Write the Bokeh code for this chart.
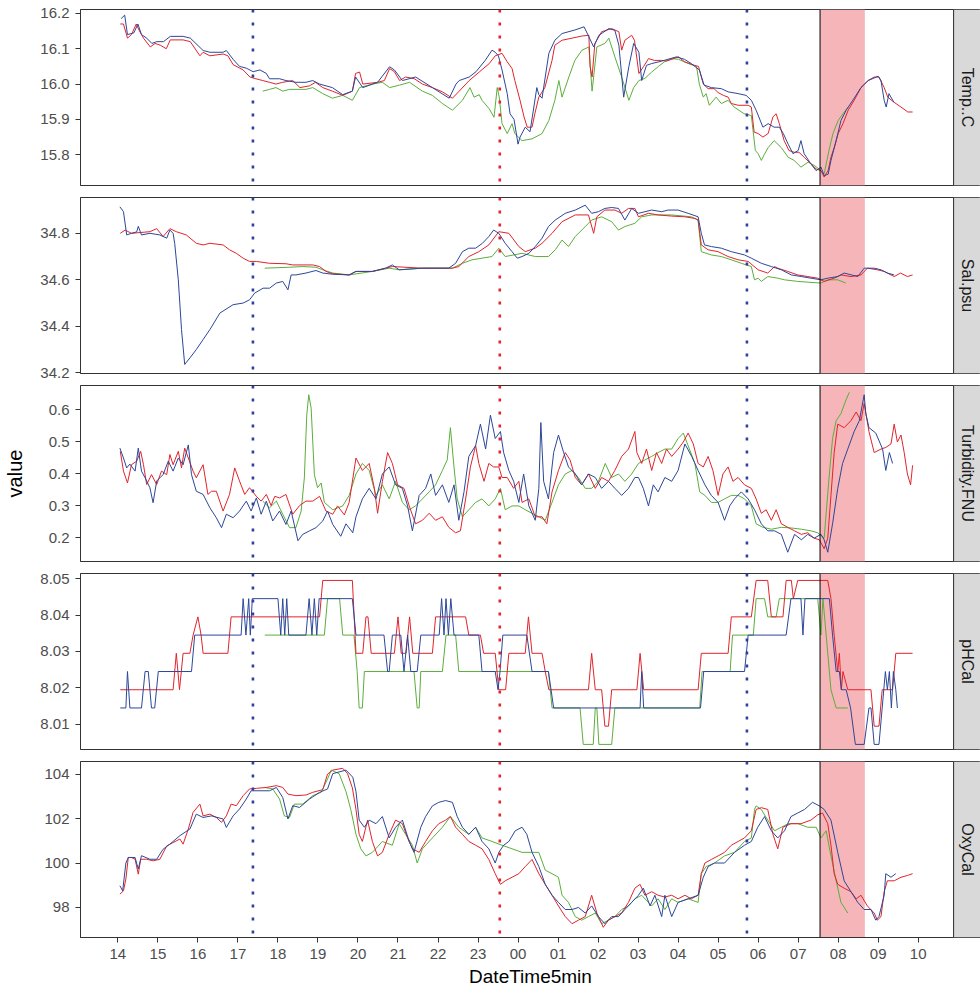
import math
from bokeh.plotting import figure
from bokeh.layouts import column
from bokeh.models import Span, BoxAnnotation, Label, FixedTicker, NumeralTickFormatter, Range1d
from bokeh.embed import file_html
from bokeh.resources import INLINE

# ---------------- data (time = hours after 14:00) ----------------
HOUR_TICKS = list(range(21))
HOUR_LABELS = ["14", "15", "16", "17", "18", "19", "20", "21", "22", "23", "00",
               "01", "02", "03", "04", "05", "06", "07", "08", "09", "10"]

EVENT_BLUE_T = [3.375, 15.72]
EVENT_RED_T = [9.544]
SAMPLE_START_T = 17.547
SAMPLE_END_T = 18.667

TEMP_RED = [(0.06,16.17),(0.14,16.17),(0.24,16.13),(0.34,16.14),(0.46,16.17),(0.54,16.15),(0.64,16.13),(0.81,16.105),(0.93,16.115),(1.06,16.11),(1.21,16.10),(1.31,16.125),(1.63,16.125),(1.81,16.12),(2.05,16.08),(2.13,16.09),(2.30,16.08),(2.63,16.085),(2.75,16.08),(2.88,16.055),(3.13,16.04),(3.30,16.02),(3.45,16.015),(3.62,16.01),(3.79,16.005),(3.95,16.0),(4.12,16.005),(4.37,16.01),(4.55,15.99),(4.79,15.995),(4.94,16.005),(5.12,15.99),(5.36,15.98),(5.62,15.968),(5.86,15.98),(5.94,16.03),(6.04,16.034),(6.12,16.0),(6.49,16.005),(6.66,16.01),(6.79,16.044),(6.91,16.035),(7.04,16.01),(7.19,16.02),(7.41,16.015),(7.61,16.0),(7.86,15.99),(8.11,15.978),(8.36,15.96),(8.53,15.98),(8.78,16.01),(9.03,16.034),(9.28,16.058),(9.43,16.08),(9.60,16.087),(9.73,16.063),(9.85,16.044),(9.92,16.01),(10.05,15.954),(10.15,15.907),(10.23,15.878),(10.35,15.878),(10.42,15.916),(10.52,15.963),(10.67,15.99),(10.85,16.067),(10.92,16.11),(11.10,16.124),(11.35,16.13),(11.60,16.136),(11.77,16.138),(11.80,16.05),(11.85,16.02),(11.92,16.115),(12.09,16.148),(12.34,16.157),(12.52,16.148),(12.59,16.096),(12.67,16.124),(12.84,16.138),(12.91,16.124),(13.02,16.03),(13.14,16.05),(13.26,16.072),(13.41,16.067),(13.59,16.067),(13.71,16.065),(14.01,16.077),(14.16,16.063),(14.41,16.053),(14.51,16.05),(14.63,16.0),(14.75,15.987),(14.90,15.987),(15.00,15.976),(15.13,15.968),(15.25,15.963),(15.33,15.945),(15.50,15.94),(15.75,15.94),(15.83,15.935),(15.90,15.864),(16.00,15.86),(16.12,15.85),(16.25,15.86),(16.37,15.907),(16.45,15.916),(16.53,15.888),(16.65,15.84),(16.77,15.812),(16.90,15.807),(17.02,15.807),(17.15,15.793),(17.32,15.774),(17.45,15.76),(17.57,15.755),(17.65,15.737),(17.75,15.756),(17.82,15.793),(17.90,15.82),(18.00,15.86),(18.12,15.888),(18.25,15.926),(18.40,15.954),(18.57,15.99),(18.75,16.01),(18.90,16.02),(19.02,16.02),(19.15,15.99),(19.24,15.963),(19.39,15.949),(19.57,15.935),(19.74,15.921),(19.86,15.921)]
TEMP_BLUE = [(0.08,16.185),(0.17,16.195),(0.24,16.14),(0.40,16.145),(0.50,16.17),(0.59,16.14),(0.72,16.13),(0.85,16.115),(0.97,16.12),(1.14,16.12),(1.31,16.135),(1.63,16.135),(1.81,16.13),(2.13,16.095),(2.30,16.09),(2.63,16.09),(2.71,16.095),(2.88,16.07),(3.04,16.05),(3.21,16.045),(3.38,16.035),(3.55,16.04),(3.71,16.03),(3.79,16.015),(4.04,16.015),(4.20,16.01),(4.45,16.005),(4.70,16.005),(4.87,16.01),(5.04,16.0),(5.36,15.99),(5.62,15.97),(5.86,15.98),(5.94,16.02),(6.12,15.99),(6.49,16.005),(6.79,16.049),(6.91,16.04),(7.11,16.01),(7.44,16.02),(7.86,15.99),(8.28,15.96),(8.45,16.0),(8.53,16.01),(8.78,16.02),(8.95,16.035),(9.18,16.067),(9.35,16.096),(9.43,16.09),(9.51,16.08),(9.60,16.04),(9.73,15.973),(9.80,15.916),(9.90,15.90),(10.00,15.83),(10.05,15.85),(10.18,15.878),(10.30,15.865),(10.47,15.99),(10.52,15.97),(10.60,15.96),(10.77,16.087),(10.92,16.124),(11.10,16.143),(11.42,16.153),(11.65,16.162),(11.77,16.134),(11.89,16.105),(12.02,16.138),(12.27,16.157),(12.42,16.152),(12.52,16.11),(12.64,15.963),(12.77,16.05),(12.89,16.115),(13.02,16.09),(13.09,16.01),(13.21,16.053),(13.34,16.058),(13.59,16.065),(13.96,16.077),(14.16,16.07),(14.33,16.058),(14.53,16.04),(14.65,15.997),(14.83,15.99),(15.08,15.987),(15.25,15.978),(15.50,15.973),(15.70,15.968),(15.83,15.954),(15.95,15.926),(16.12,15.878),(16.25,15.888),(16.40,15.878),(16.53,15.878),(16.63,15.86),(16.75,15.83),(16.87,15.803),(17.00,15.812),(17.07,15.84),(17.15,15.803),(17.32,15.774),(17.45,15.755),(17.57,15.765),(17.65,15.741),(17.75,15.745),(17.82,15.784),(17.95,15.84),(18.07,15.897),(18.20,15.926),(18.40,15.96),(18.57,15.99),(18.75,16.01),(19.00,16.022),(19.07,16.01),(19.15,15.954),(19.20,15.935),(19.27,15.973),(19.39,15.949)]
TEMP_GREEN = [(3.62,15.98),(3.79,15.985),(3.95,15.99),(4.12,15.98),(4.29,15.985),(4.70,15.985),(4.87,15.99),(5.12,15.973),(5.36,15.96),(5.62,15.968),(5.86,15.954),(6.04,15.99),(6.36,16.0),(6.61,16.005),(6.79,15.99),(7.04,15.997),(7.29,16.005),(7.61,15.98),(7.86,15.968),(8.11,15.945),(8.36,15.926),(8.61,15.954),(8.80,15.99),(8.90,15.963),(9.03,15.97),(9.10,15.954),(9.28,15.93),(9.40,15.906),(9.48,15.99),(9.53,15.963),(9.60,15.888),(9.73,15.86),(9.85,15.888),(9.92,15.86),(10.10,15.84),(10.35,15.845),(10.60,15.86),(10.77,15.897),(10.92,15.954),(11.02,16.01),(11.10,15.963),(11.27,16.02),(11.42,16.067),(11.60,16.096),(11.77,16.105),(11.85,15.98),(11.97,16.105),(12.17,16.115),(12.27,16.13),(12.42,16.077),(12.59,16.02),(12.77,15.954),(12.89,15.99),(13.02,16.01),(13.17,16.016),(13.34,16.034),(13.51,16.05),(13.66,16.063),(13.84,16.072),(14.01,16.07),(14.26,16.058),(14.46,16.05),(14.53,16.0),(14.63,15.963),(14.70,15.973),(14.78,15.94),(14.95,15.963),(15.08,15.945),(15.25,15.954),(15.40,15.935),(15.65,15.916),(15.83,15.911),(15.93,15.812),(16.00,15.803),(16.08,15.784),(16.15,15.80),(16.25,15.82),(16.40,15.84),(16.58,15.82),(16.75,15.793),(16.90,15.784),(17.07,15.765),(17.25,15.779),(17.40,15.77),(17.52,15.76),(17.65,15.746),(17.77,15.812),(17.87,15.86),(18.00,15.897),(18.12,15.916),(18.25,15.935)]

SAL_RED = [(0.06,34.80),(0.18,34.814),(0.34,34.80),(0.80,34.807),(0.97,34.82),(1.13,34.786),(1.30,34.82),(1.46,34.807),(1.71,34.793),(1.96,34.757),(2.13,34.75),(2.30,34.757),(2.63,34.75),(2.79,34.729),(2.96,34.714),(3.13,34.693),(3.29,34.679),(3.46,34.679),(3.79,34.671),(4.20,34.669),(4.37,34.664),(4.87,34.664),(5.04,34.657),(5.20,34.636),(5.37,34.626),(5.78,34.621),(5.95,34.636),(6.36,34.636),(6.69,34.65),(6.86,34.657),(7.61,34.65),(8.36,34.65),(8.52,34.657),(8.77,34.70),(9.02,34.721),(9.27,34.75),(9.52,34.807),(9.77,34.80),(10.02,34.743),(10.18,34.721),(10.43,34.736),(10.60,34.757),(10.85,34.80),(11.10,34.85),(11.43,34.879),(11.76,34.879),(11.89,34.80),(11.97,34.871),(12.17,34.90),(12.42,34.90),(12.59,34.886),(12.76,34.907),(12.92,34.907),(13.01,34.871),(13.26,34.886),(13.50,34.879),(13.84,34.874),(14.17,34.871),(14.42,34.864),(14.50,34.857),(14.58,34.75),(14.75,34.729),(15.00,34.721),(15.25,34.70),(15.50,34.686),(15.75,34.679),(16.00,34.643),(16.24,34.629),(16.41,34.657),(16.49,34.65),(16.74,34.636),(16.99,34.621),(17.24,34.614),(17.49,34.607),(17.65,34.593),(17.90,34.607),(18.07,34.621),(18.32,34.614),(18.57,34.621),(18.73,34.65),(18.98,34.643),(19.15,34.636),(19.40,34.614),(19.56,34.629),(19.73,34.614),(19.86,34.621)]
SAL_BLUE = [(0.05,34.914),(0.14,34.893),(0.22,34.793),(0.34,34.80),(0.47,34.806),(0.51,34.83),(0.59,34.793),(0.80,34.80),(1.05,34.793),(1.22,34.779),(1.30,34.814),(1.38,34.80),(1.42,34.757),(1.51,34.60),(1.59,34.386),(1.67,34.236),(1.80,34.264),(1.96,34.30),(2.13,34.343),(2.30,34.386),(2.55,34.457),(2.88,34.493),(3.13,34.50),(3.29,34.514),(3.42,34.543),(3.63,34.564),(3.79,34.564),(3.96,34.586),(4.12,34.593),(4.25,34.557),(4.33,34.621),(4.45,34.621),(4.70,34.629),(4.95,34.64),(5.12,34.629),(5.37,34.624),(5.78,34.621),(5.95,34.636),(6.36,34.636),(6.69,34.65),(6.86,34.664),(7.03,34.643),(7.61,34.65),(8.27,34.65),(8.44,34.671),(8.61,34.721),(8.77,34.736),(8.94,34.736),(9.11,34.757),(9.27,34.786),(9.39,34.814),(9.52,34.80),(9.68,34.757),(9.85,34.721),(9.98,34.693),(10.10,34.70),(10.27,34.714),(10.43,34.743),(10.60,34.779),(10.76,34.829),(10.93,34.857),(11.18,34.886),(11.43,34.90),(11.68,34.921),(11.84,34.886),(12.01,34.893),(12.17,34.907),(12.34,34.911),(12.51,34.907),(12.67,34.857),(12.84,34.907),(13.01,34.886),(13.34,34.90),(13.59,34.893),(13.75,34.90),(14.00,34.90),(14.25,34.886),(14.50,34.871),(14.58,34.80),(14.66,34.75),(14.83,34.743),(15.08,34.736),(15.33,34.721),(15.66,34.707),(15.83,34.693),(16.08,34.671),(16.33,34.657),(16.58,34.643),(16.83,34.621),(17.08,34.614),(17.32,34.607),(17.57,34.60),(17.74,34.607),(17.99,34.614),(18.15,34.629),(18.49,34.614),(18.65,34.65),(18.90,34.65),(19.07,34.643),(19.23,34.629),(19.40,34.621)]
SAL_GREEN = [(3.67,34.65),(4.29,34.654),(4.62,34.657),(4.95,34.654),(5.12,34.643),(5.37,34.629),(5.78,34.621),(6.36,34.636),(6.78,34.65),(7.03,34.643),(7.61,34.65),(8.36,34.65),(8.61,34.671),(8.85,34.686),(9.10,34.693),(9.35,34.70),(9.52,34.736),(9.68,34.70),(10.10,34.714),(10.43,34.70),(10.76,34.70),(10.93,34.729),(11.10,34.771),(11.26,34.743),(11.43,34.786),(11.68,34.829),(11.84,34.857),(12.09,34.871),(12.34,34.85),(12.51,34.814),(12.67,34.829),(12.92,34.843),(13.09,34.871),(13.34,34.879),(13.84,34.879),(14.33,34.871),(14.50,34.857),(14.58,34.721),(14.83,34.707),(15.08,34.70),(15.33,34.686),(15.58,34.671),(15.83,34.657),(15.91,34.60),(16.00,34.607),(16.08,34.593),(16.24,34.614),(16.49,34.607),(16.66,34.60),(16.99,34.593),(17.32,34.589),(17.57,34.586),(17.74,34.60),(17.99,34.60),(18.19,34.586)]

TURB_RED = [(0.06,0.47),(0.14,0.408),(0.24,0.371),(0.34,0.428),(0.47,0.439),(0.57,0.47),(0.64,0.428),(0.72,0.366),(0.84,0.397),(0.97,0.366),(1.09,0.408),(1.22,0.397),(1.30,0.46),(1.38,0.428),(1.51,0.47),(1.59,0.418),(1.67,0.48),(1.76,0.449),(1.88,0.408),(1.96,0.387),(2.13,0.428),(2.25,0.335),(2.34,0.345),(2.46,0.345),(2.63,0.283),(2.79,0.335),(2.92,0.418),(3.04,0.377),(3.17,0.335),(3.29,0.356),(3.46,0.329),(3.58,0.314),(3.71,0.335),(3.83,0.30),(3.92,0.329),(4.04,0.324),(4.20,0.335),(4.37,0.273),(4.54,0.30),(4.70,0.314),(4.87,0.314),(5.04,0.329),(5.20,0.283),(5.37,0.273),(5.49,0.299),(5.66,0.271),(5.78,0.31),(5.95,0.449),(6.11,0.41),(6.28,0.432),(6.41,0.354),(6.49,0.276),(6.61,0.376),(6.74,0.466),(6.86,0.432),(6.99,0.365),(7.15,0.354),(7.28,0.299),(7.44,0.243),(7.61,0.254),(7.78,0.276),(7.94,0.254),(8.11,0.265),(8.27,0.232),(8.44,0.215),(8.56,0.221),(8.69,0.321),(8.81,0.421),(8.94,0.488),(9.02,0.432),(9.15,0.376),(9.27,0.432),(9.39,0.421),(9.52,0.421),(9.60,0.388),(9.73,0.388),(9.89,0.354),(10.02,0.376),(10.10,0.31),(10.27,0.321),(10.43,0.265),(10.60,0.265),(10.72,0.243),(10.85,0.343),(11.01,0.41),(11.18,0.466),(11.30,0.443),(11.43,0.388),(11.59,0.365),(11.76,0.399),(11.93,0.354),(12.09,0.388),(12.26,0.376),(12.42,0.41),(12.59,0.454),(12.76,0.477),(12.92,0.532),(12.97,0.466),(13.09,0.432),(13.21,0.477),(13.34,0.41),(13.46,0.466),(13.59,0.432),(13.71,0.477),(13.84,0.454),(14.00,0.477),(14.13,0.499),(14.25,0.527),(14.38,0.493),(14.50,0.432),(14.63,0.421),(14.75,0.454),(14.87,0.41),(15.00,0.332),(15.12,0.399),(15.25,0.421),(15.37,0.376),(15.50,0.388),(15.66,0.365),(15.83,0.354),(15.95,0.321),(16.08,0.276),(16.20,0.287),(16.33,0.254),(16.45,0.287),(16.58,0.243),(16.74,0.232),(16.91,0.221),(17.08,0.21),(17.24,0.215),(17.40,0.198),(17.53,0.193),(17.65,0.165),(17.74,0.198),(17.82,0.332),(17.90,0.466),(17.99,0.555),(18.15,0.544),(18.32,0.566),(18.45,0.593),(18.57,0.566),(18.65,0.62),(18.77,0.532),(18.90,0.466),(19.07,0.477),(19.19,0.482),(19.32,0.493),(19.40,0.555),(19.48,0.499),(19.57,0.521),(19.65,0.466),(19.73,0.399),(19.81,0.365),(19.86,0.426)]
TURB_BLUE = [(0.05,0.48),(0.14,0.449),(0.22,0.418),(0.30,0.43),(0.43,0.408),(0.51,0.48),(0.59,0.408),(0.68,0.387),(0.80,0.356),(0.88,0.309),(0.97,0.377),(1.05,0.387),(1.13,0.397),(1.26,0.439),(1.38,0.408),(1.51,0.449),(1.63,0.428),(1.76,0.49),(1.84,0.397),(1.96,0.345),(2.13,0.335),(2.30,0.293),(2.46,0.262),(2.59,0.231),(2.71,0.273),(2.88,0.262),(3.04,0.283),(3.21,0.314),(3.33,0.283),(3.46,0.324),(3.58,0.273),(3.71,0.314),(3.87,0.252),(4.04,0.283),(4.20,0.241),(4.33,0.283),(4.50,0.19),(4.62,0.21),(4.79,0.221),(4.95,0.231),(5.12,0.252),(5.24,0.283),(5.37,0.241),(5.57,0.204),(5.70,0.243),(5.87,0.215),(5.95,0.265),(6.11,0.321),(6.28,0.354),(6.45,0.321),(6.61,0.399),(6.78,0.421),(6.94,0.365),(7.11,0.354),(7.24,0.299),(7.36,0.221),(7.53,0.332),(7.69,0.354),(7.82,0.399),(7.94,0.332),(8.11,0.365),(8.27,0.31),(8.40,0.365),(8.52,0.254),(8.65,0.343),(8.77,0.454),(8.94,0.488),(9.06,0.555),(9.19,0.477),(9.31,0.583),(9.43,0.51),(9.56,0.532),(9.64,0.466),(9.77,0.41),(9.89,0.376),(10.02,0.31),(10.14,0.399),(10.27,0.299),(10.43,0.254),(10.52,0.354),(10.57,0.56),(10.64,0.376),(10.76,0.321),(10.89,0.466),(11.01,0.521),(11.14,0.466),(11.26,0.421),(11.43,0.399),(11.59,0.365),(11.76,0.399),(11.93,0.388),(12.09,0.354),(12.26,0.376),(12.42,0.354),(12.59,0.332),(12.76,0.354),(12.92,0.388),(13.01,0.388),(13.13,0.354),(13.26,0.299),(13.38,0.365),(13.50,0.343),(13.67,0.388),(13.84,0.376),(14.00,0.41),(14.17,0.493),(14.34,0.454),(14.50,0.41),(14.67,0.365),(14.83,0.332),(15.00,0.31),(15.16,0.254),(15.29,0.299),(15.41,0.321),(15.58,0.343),(15.75,0.321),(15.91,0.287),(16.08,0.243),(16.24,0.221),(16.41,0.221),(16.58,0.21),(16.74,0.154),(16.91,0.21),(17.08,0.193),(17.24,0.21),(17.40,0.198),(17.57,0.21),(17.65,0.193),(17.74,0.154),(17.86,0.243),(17.99,0.354),(18.11,0.432),(18.24,0.477),(18.40,0.532),(18.53,0.566),(18.65,0.647),(18.69,0.588),(18.77,0.544),(18.94,0.527),(19.11,0.477),(19.19,0.41),(19.28,0.466),(19.36,0.432)]
TURB_GREEN = [(3.62,0.314),(3.79,0.293),(3.96,0.314),(4.12,0.273),(4.29,0.231),(4.45,0.231),(4.58,0.283),(4.66,0.387),(4.72,0.584),(4.77,0.647),(4.83,0.605),(4.91,0.397),(4.99,0.356),(5.08,0.371),(5.16,0.31),(5.37,0.287),(5.62,0.299),(5.78,0.332),(5.95,0.399),(6.11,0.432),(6.28,0.41),(6.45,0.332),(6.61,0.365),(6.78,0.321),(6.94,0.376),(7.11,0.31),(7.28,0.287),(7.44,0.299),(7.61,0.321),(7.78,0.343),(7.94,0.365),(8.11,0.41),(8.23,0.443),(8.31,0.544),(8.40,0.421),(8.48,0.321),(8.61,0.265),(8.77,0.287),(8.94,0.31),(9.10,0.321),(9.27,0.299),(9.43,0.321),(9.56,0.354),(9.68,0.287),(9.85,0.299),(10.02,0.299),(10.18,0.287),(10.35,0.276),(10.52,0.265),(10.68,0.254),(10.85,0.31),(11.01,0.365),(11.18,0.399),(11.35,0.41),(11.51,0.388),(11.68,0.354),(11.84,0.354),(12.01,0.376),(12.18,0.432),(12.34,0.388),(12.51,0.399),(12.67,0.376),(12.84,0.399),(13.01,0.432),(13.17,0.443),(13.34,0.454),(13.50,0.466),(13.67,0.477),(13.84,0.477),(14.00,0.51),(14.13,0.527),(14.25,0.488),(14.42,0.432),(14.54,0.343),(14.67,0.332),(14.83,0.31),(15.00,0.31),(15.16,0.321),(15.33,0.332),(15.50,0.332),(15.66,0.321),(15.83,0.299),(15.95,0.243),(16.12,0.232),(16.33,0.226),(16.58,0.232),(16.83,0.23),(17.08,0.226),(17.32,0.221),(17.49,0.215),(17.65,0.198),(17.78,0.399),(17.86,0.51),(17.95,0.566),(18.07,0.588),(18.20,0.632),(18.28,0.655)]

PH_RED = [(0.06,8.0195),(1.38,8.0195),(1.46,8.0295),(1.54,8.0195),(1.63,8.0295),(1.80,8.0295),(1.88,8.0345),(2.00,8.0395),(2.08,8.0345),(2.13,8.0295),(2.75,8.0295),(2.83,8.0395),(5.04,8.0395),(5.12,8.0495),(5.86,8.0495),(5.95,8.0295),(6.12,8.0295),(6.20,8.0395),(6.25,8.0395),(6.33,8.0295),(6.91,8.0295),(7.00,8.0395),(7.08,8.0295),(7.20,8.0295),(7.29,8.0395),(7.37,8.0295),(7.86,8.0295),(7.94,8.0395),(8.69,8.0395),(8.77,8.0345),(9.06,8.0345),(9.14,8.0295),(9.43,8.0295),(9.52,8.0195),(9.69,8.0195),(9.77,8.0295),(10.18,8.0295),(10.26,8.0395),(10.35,8.0295),(10.60,8.0295),(10.68,8.0245),(10.77,8.0195),(11.76,8.0195),(11.84,8.0295),(11.93,8.0195),(12.09,8.0195),(12.17,8.0095),(12.26,8.0095),(12.34,8.0195),(12.97,8.0195),(13.05,8.0295),(13.14,8.0195),(14.50,8.0195),(14.58,8.0295),(15.25,8.0295),(15.33,8.0395),(15.83,8.0395),(15.95,8.0495),(16.24,8.0495),(16.33,8.0395),(16.62,8.0395),(16.70,8.0495),(16.83,8.0495),(16.88,8.0445),(16.99,8.0495),(17.74,8.0495),(17.82,8.0445),(17.90,8.0345),(17.99,8.0245),(18.03,8.0295),(18.08,8.0195),(18.12,8.0245),(18.24,8.0195),(18.82,8.0195),(18.90,8.0095),(19.02,8.0095),(19.10,8.0195),(19.36,8.0195),(19.44,8.0295),(19.86,8.0295)]
PH_BLUE = [(0.06,8.0145),(0.20,8.0145),(0.24,8.0245),(0.30,8.0145),(0.59,8.0145),(0.68,8.0245),(0.76,8.0245),(0.84,8.0145),(0.92,8.0145),(1.01,8.0245),(1.84,8.0245),(1.92,8.0345),(3.08,8.0345),(3.13,8.0445),(3.20,8.0345),(3.27,8.0445),(3.31,8.0345),(3.36,8.0445),(4.00,8.0445),(4.07,8.0345),(4.12,8.0445),(4.17,8.0345),(4.22,8.0445),(4.27,8.0345),(4.70,8.0345),(4.78,8.0445),(4.85,8.0345),(4.91,8.0445),(4.97,8.0345),(5.03,8.0445),(5.86,8.0445),(5.95,8.0345),(6.65,8.0345),(6.74,8.0245),(6.78,8.0245),(6.86,8.0345),(7.07,8.0345),(7.15,8.0245),(7.24,8.0345),(7.32,8.0245),(7.48,8.0245),(7.57,8.0345),(8.03,8.0345),(8.09,8.0445),(8.15,8.0345),(8.20,8.0445),(8.26,8.0345),(8.32,8.0445),(8.40,8.0345),(9.02,8.0345),(9.10,8.0245),(9.43,8.0245),(9.50,8.0195),(9.55,8.0245),(9.62,8.0345),(10.22,8.0345),(10.35,8.0245),(10.76,8.0245),(10.89,8.0145),(13.05,8.0145),(13.09,8.0245),(13.14,8.0145),(14.56,8.0145),(14.64,8.0245),(15.66,8.0245),(15.75,8.0345),(16.70,8.0345),(16.82,8.0445),(17.07,8.0445),(17.12,8.0345),(17.17,8.0445),(17.78,8.0445),(17.86,8.0345),(17.95,8.0245),(18.03,8.0245),(18.08,8.0195),(18.20,8.0195),(18.31,8.0145),(18.43,8.0045),(18.65,8.0045),(18.77,8.0145),(18.82,8.0145),(18.90,8.0045),(19.02,8.0045),(19.10,8.0145),(19.18,8.0245),(19.23,8.0195),(19.28,8.0245),(19.33,8.0145),(19.38,8.0245),(19.44,8.0195),(19.48,8.0145)]
PH_GREEN = [(3.67,8.0345),(5.16,8.0345),(5.24,8.0445),(5.54,8.0445),(5.62,8.0345),(5.90,8.0345),(5.98,8.0245),(6.03,8.0145),(6.11,8.0145),(6.16,8.0245),(7.40,8.0245),(7.48,8.0145),(7.53,8.0145),(7.57,8.0245),(8.11,8.0245),(8.20,8.0345),(8.44,8.0345),(8.52,8.0245),(10.76,8.0245),(10.85,8.0145),(11.55,8.0145),(11.63,8.0045),(11.88,8.0045),(11.93,8.0145),(11.97,8.0145),(12.02,8.0045),(12.34,8.0045),(12.42,8.0145),(14.54,8.0145),(14.60,8.0245),(15.30,8.0245),(15.36,8.0345),(15.88,8.0345),(15.95,8.0445),(16.16,8.0445),(16.24,8.0395),(16.45,8.0395),(16.53,8.0445),(17.49,8.0445),(17.57,8.0345),(17.62,8.0445),(17.74,8.0295),(17.82,8.0195),(17.95,8.0145),(18.24,8.0145)]

OXY_RED = [(0.05,98.6),(0.14,98.75),(0.20,99.28),(0.26,100.25),(0.34,100.25),(0.43,100.17),(0.51,99.5),(0.57,100.17),(0.72,100.17),(0.88,100.1),(1.05,100.17),(1.22,100.77),(1.38,100.92),(1.55,101.08),(1.63,100.85),(1.76,101.53),(1.88,102.28),(2.05,102.65),(2.13,102.12),(2.30,102.2),(2.46,102.05),(2.59,101.83),(2.71,102.12),(2.83,102.65),(2.96,102.58),(3.13,103.03),(3.29,103.33),(3.46,103.36),(3.71,103.4),(3.96,103.48),(4.12,103.4),(4.25,103.1),(4.45,103.03),(4.70,103.06),(4.87,103.18),(5.12,103.3),(5.24,104.0),(5.37,104.18),(5.62,104.26),(5.74,104.02),(5.86,103.38),(5.95,102.41),(6.03,101.29),(6.11,100.97),(6.24,101.93),(6.36,100.97),(6.49,100.32),(6.61,100.48),(6.78,101.29),(6.94,101.93),(7.11,101.77),(7.24,101.13),(7.36,100.64),(7.53,100.48),(7.69,100.97),(7.86,101.45),(8.02,101.77),(8.19,101.93),(8.31,102.09),(8.44,101.61),(8.61,101.29),(8.77,100.97),(8.94,100.80),(9.10,100.64),(9.27,100.16),(9.43,99.52),(9.56,99.04),(9.68,99.2),(9.85,99.36),(10.02,99.52),(10.18,99.84),(10.35,100.16),(10.52,99.52),(10.68,99.04),(10.85,98.55),(11.01,98.07),(11.18,97.59),(11.35,97.27),(11.51,97.43),(11.68,97.59),(11.84,98.55),(11.97,97.75),(12.13,97.11),(12.26,97.43),(12.42,97.59),(12.59,97.75),(12.76,98.23),(12.92,98.87),(13.05,99.04),(13.17,98.55),(13.34,98.71),(13.50,98.55),(13.67,98.47),(13.84,98.55),(14.00,98.39),(14.17,98.55),(14.33,98.39),(14.50,98.55),(14.58,99.52),(14.67,100.0),(14.83,100.16),(15.00,100.32),(15.16,100.48),(15.33,100.80),(15.50,100.97),(15.66,101.13),(15.83,101.45),(15.95,102.41),(16.08,102.49),(16.24,102.41),(16.37,101.29),(16.49,100.64),(16.62,101.61),(16.82,101.77),(17.07,101.77),(17.32,101.93),(17.49,102.17),(17.61,102.25),(17.74,101.77),(17.82,100.80),(17.90,99.52),(17.99,99.04),(18.15,98.87),(18.32,98.71),(18.45,98.39),(18.57,98.55),(18.73,98.07),(18.90,97.75),(18.98,97.43),(19.07,97.59),(19.15,98.71),(19.23,99.2),(19.40,99.2),(19.57,99.36),(19.73,99.44),(19.86,99.52)]
OXY_BLUE = [(0.05,98.98),(0.12,98.75),(0.20,100.0),(0.26,100.25),(0.43,100.25),(0.51,99.73),(0.59,100.33),(0.80,100.17),(0.97,100.17),(1.13,100.62),(1.30,100.85),(1.55,101.23),(1.80,101.53),(1.96,102.2),(2.13,102.05),(2.34,102.12),(2.63,101.98),(2.71,101.6),(2.88,102.12),(3.04,102.43),(3.21,102.88),(3.33,103.25),(3.79,103.25),(3.96,103.4),(4.12,102.95),(4.25,101.98),(4.37,102.58),(4.54,102.5),(4.79,102.88),(5.04,103.18),(5.24,103.33),(5.37,104.02),(5.70,104.18),(5.87,103.86),(5.95,103.22),(6.03,101.93),(6.16,101.61),(6.28,101.93),(6.45,101.77),(6.61,102.09),(6.78,101.13),(6.94,101.61),(7.11,101.93),(7.28,100.97),(7.40,100.48),(7.57,101.61),(7.69,102.09),(7.86,102.57),(8.02,102.73),(8.19,102.81),(8.36,102.73),(8.48,102.09),(8.61,101.61),(8.77,101.29),(8.94,101.61),(9.10,100.97),(9.27,100.64),(9.43,100.0),(9.52,100.48),(9.64,100.80),(9.77,100.97),(9.93,101.45),(10.10,101.61),(10.22,101.29),(10.35,100.48),(10.52,99.84),(10.68,99.04),(10.85,98.55),(11.01,98.23),(11.18,97.91),(11.35,97.91),(11.51,98.0),(11.68,97.75),(11.84,98.07),(12.01,97.59),(12.17,97.27),(12.34,97.59),(12.51,97.59),(12.67,97.91),(12.84,98.23),(13.01,98.55),(13.13,98.87),(13.30,98.07),(13.42,98.55),(13.59,97.59),(13.67,98.55),(13.84,97.59),(14.00,98.23),(14.25,98.39),(14.50,98.55),(14.63,99.36),(14.75,99.84),(14.91,100.0),(15.16,100.0),(15.41,100.48),(15.66,100.80),(15.83,100.97),(15.99,101.61),(16.16,102.09),(16.33,101.45),(16.49,101.13),(16.66,101.45),(16.82,102.09),(16.99,102.25),(17.16,102.41),(17.36,102.73),(17.53,102.57),(17.65,102.41),(17.82,101.93),(17.99,100.48),(18.15,99.2),(18.32,98.71),(18.49,98.23),(18.65,97.91),(18.82,97.91),(18.94,97.43),(19.02,97.59),(19.15,98.55),(19.19,99.52),(19.32,99.36),(19.44,99.52)]
OXY_GREEN = [(3.67,103.4),(3.87,103.33),(4.04,102.88),(4.16,102.12),(4.29,102.05),(4.41,102.65),(4.62,102.65),(4.87,103.03),(5.08,103.18),(5.24,103.78),(5.33,104.18),(5.53,104.02),(5.70,103.22),(5.82,102.41),(5.95,101.29),(6.07,100.64),(6.20,100.32),(6.36,100.48),(6.61,100.97),(6.86,100.80),(7.03,101.77),(7.19,101.29),(7.36,100.80),(7.48,100.0),(7.61,100.64),(7.86,101.13),(8.11,101.61),(8.31,102.09),(8.52,101.61),(8.77,101.29),(8.94,101.61),(9.10,101.13),(9.35,100.97),(9.60,100.80),(9.85,100.64),(10.10,100.48),(10.52,100.48),(10.68,99.68),(10.85,99.52),(11.01,99.36),(11.10,98.55),(11.26,98.23),(11.43,97.59),(11.59,97.43),(11.76,97.59),(11.93,97.75),(12.09,97.27),(12.26,97.43),(12.42,97.59),(12.59,97.91),(12.76,98.07),(12.92,98.39),(13.09,98.55),(13.34,98.07),(13.50,98.39),(13.67,97.91),(13.84,98.39),(14.00,98.23),(14.25,98.39),(14.50,98.23),(14.58,99.52),(14.70,99.84),(14.91,100.0),(15.16,100.32),(15.41,100.48),(15.66,100.97),(15.83,101.13),(15.91,102.41),(15.95,102.57),(16.08,102.41),(16.24,101.93),(16.41,101.45),(16.58,101.61),(16.75,101.77),(16.99,101.77),(17.24,101.61),(17.45,101.61),(17.57,101.13),(17.70,101.45),(17.82,100.32),(17.95,99.2),(18.07,98.23),(18.24,97.75)]

PANEL_NAMES = ["Temp..C", "Sal.psu", "Turbidity.FNU", "pHCal", "OxyCal"]
PANEL_YRANGES = [(15.713, 16.211), (34.197, 34.954), (0.125, 0.676), (8.0031, 8.0514), (96.65, 104.567)]
PANEL_YTICKS = [[15.8, 15.9, 16.0, 16.1, 16.2], [34.2, 34.4, 34.6, 34.8],
                [0.2, 0.3, 0.4, 0.5, 0.6], [8.01, 8.02, 8.03, 8.04, 8.05], [98, 100, 102, 104]]
PANEL_YFORMAT = ["0.0", "0.0", "0.0", "0.00", "0"]
PANEL_SERIES = [(TEMP_GREEN, TEMP_RED, TEMP_BLUE), (SAL_GREEN, SAL_RED, SAL_BLUE),
                (TURB_GREEN, TURB_RED, TURB_BLUE), (PH_GREEN, PH_RED, PH_BLUE),
                (OXY_GREEN, OXY_RED, OXY_BLUE)]

# ---------------- style / layout ----------------
C_GREEN, C_RED, C_BLUE = "#5BAE3C", "#E0242B", "#2C4799"
FONT = "Liberation Sans"
X_START, X_PANEL_END, X_END = -0.934, 20.884, 21.557
FIG_W = 980
LEFT = 77
FRAME_H = 176
TOPS = [9, 6, 2, 6, 6]
BOTTOMS = [6, 10, 6, 6, 56]

figs = []
n = len(PANEL_NAMES)
for i in range(n):
    last = (i == n - 1)
    top, bottom = TOPS[i], BOTTOMS[i]
    ylo, yhi = PANEL_YRANGES[i]
    p = figure(width=FIG_W, height=top + FRAME_H + bottom,
               x_range=Range1d(X_START, X_END), y_range=Range1d(ylo, yhi),
               output_backend="svg", toolbar_location=None,
               x_axis_location="below" if last else None,
               min_border_left=LEFT, min_border_right=0,
               min_border_top=top, min_border_bottom=bottom)
    p.grid.visible = False
    p.background_fill_color = "white"
    p.border_fill_color = "white"
    p.outline_line_color = "#333333"
    p.outline_line_width = 1

    # sampling window
    p.add_layout(BoxAnnotation(left=SAMPLE_START_T, right=SAMPLE_END_T,
                               fill_color="#F6B5B8", fill_alpha=1.0,
                               line_alpha=0, level="underlay"))

    for series, col in zip(PANEL_SERIES[i], (C_GREEN, C_RED, C_BLUE)):
        ts = [a for a, b in series]
        vs = [b for a, b in series]
        p.line(ts, vs, line_color=col, line_width=1.0)

    for t in EVENT_BLUE_T:
        p.add_layout(Span(location=t, dimension="height", line_color="#2E3F9E",
                          line_width=2.6, line_dash="3 10"))
    for t in EVENT_RED_T:
        p.add_layout(Span(location=t, dimension="height", line_color="#E3262B",
                          line_width=2.6, line_dash="3 10"))
    p.add_layout(Span(location=SAMPLE_START_T, dimension="height",
                      line_color="#000000", line_width=1))

    # facet strip on the right
    p.add_layout(BoxAnnotation(left=X_PANEL_END, fill_color="#D9D9D9", fill_alpha=1.0,
                               line_color="#333333", line_width=1, level="overlay"))
    p.add_layout(Span(location=X_PANEL_END, dimension="height",
                      line_color="#333333", line_width=1, level="overlay"))
    p.add_layout(Label(x=(X_PANEL_END + X_END) / 2, y=(ylo + yhi) / 2,
                       text=PANEL_NAMES[i], angle=-math.pi / 2,
                       text_align="center", text_baseline="middle",
                       text_font=FONT, text_font_size="16px",
                       text_color="#1A1A1A", level="overlay"))

    ya = p.yaxis[0]
    ya.ticker = FixedTicker(ticks=PANEL_YTICKS[i])
    ya.formatter = NumeralTickFormatter(format=PANEL_YFORMAT[i])
    ya.major_label_text_font = FONT
    ya.major_label_text_font_size = "15px"
    ya.major_label_text_color = "#4D4D4D"
    ya.major_tick_out = 5
    ya.major_tick_in = 0
    ya.major_tick_line_color = "#333333"
    ya.minor_tick_line_color = None
    ya.axis_line_color = "#333333"
    ya.major_label_standoff = 6
    if i == 2:
        ya.axis_label = "value"
        ya.axis_label_text_font = FONT
        ya.axis_label_text_font_size = "20px"
        ya.axis_label_text_font_style = "normal"
        ya.axis_label_text_color = "#000000"
        ya.axis_label_standoff = 20

    if last:
        xa = p.xaxis[0]
        xa.ticker = FixedTicker(ticks=HOUR_TICKS)
        xa.major_label_overrides = {t: lab for t, lab in zip(HOUR_TICKS, HOUR_LABELS)}
        xa.major_label_text_font = FONT
        xa.major_label_text_font_size = "15px"
        xa.major_label_text_color = "#4D4D4D"
        xa.major_tick_out = 5
        xa.major_tick_in = 0
        xa.major_tick_line_color = "#333333"
        xa.minor_tick_line_color = None
        xa.axis_line_color = "#333333"
        xa.major_label_standoff = 6
        xa.axis_label = "DateTime5min"
        xa.axis_label_text_font = FONT
        xa.axis_label_text_font_size = "19px"
        xa.axis_label_text_font_style = "normal"
        xa.axis_label_text_color = "#000000"
        xa.axis_label_standoff = 4
    figs.append(p)

layout = column(*figs, spacing=0)
open("out.html", "w").write(file_html(layout, INLINE))
